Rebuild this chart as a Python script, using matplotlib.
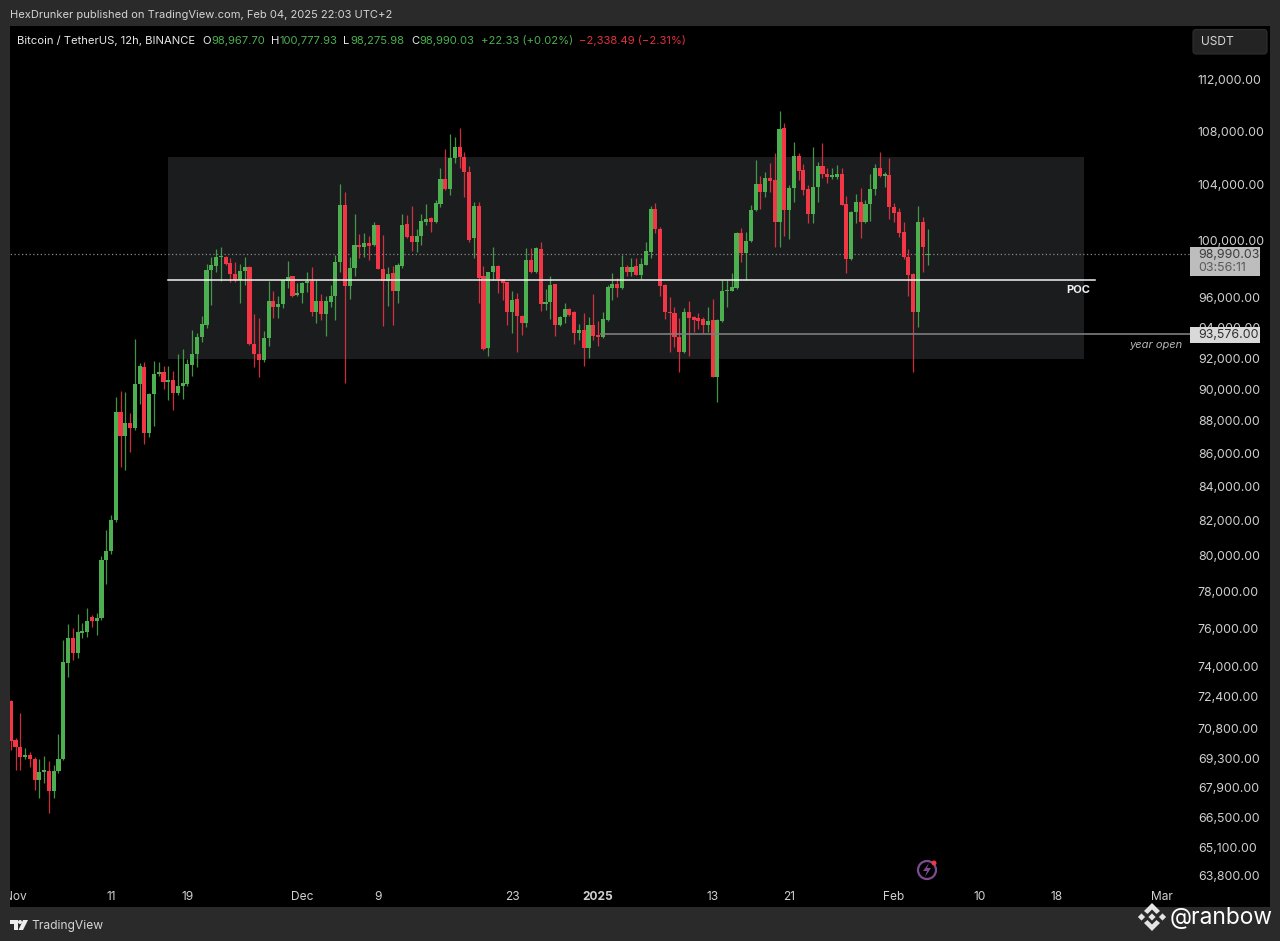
import matplotlib
matplotlib.use("Agg")
import matplotlib.pyplot as plt
import matplotlib.dates as mdates
import numpy as np
import pandas as pd
from matplotlib.patches import Rectangle, FancyBboxPatch, Circle, Polygon

plt.rcParams['font.family'] = ['Inter', 'DejaVu Sans']

# BTCUSDT 12h candles
opens = [72210,70230,69890,69370,69490,69295,68270,68660,68710,67740,
    68710,69295,74160,75480,74690,75750,75800,76610,76390,76555,
    79759,80270,82046,88550,87050,87870,87560,90325,91415,87250,
    89690,90960,91090,90450,90579,89750,90195,90320,91545,92255,
    93375,94170,97900,98180,98800,98800,98390,97625,97213,97835,
    98110,92915,92255,91870,93310,95780,95375,95575,97145,97490,
    96185,96320,97010,97145,95040,95780,94905,95715,96115,98460,
    102505,96800,98040,99650,99505,99790,99650,101065,97970,97145,
    97695,96460,98180,101135,100285,99860,100285,101280,101565,101280,
    102575,104405,103670,105970,106795,106045,104925,100140,102430,97490,
    92650,97765,98180,97280,97075,95040,95915,94770,94300,98597,
    97765,99365,95575,95715,96940,94170,94700,95240,95040,93640,
    93837,92650,94170,93500,93375,94503,96665,96940,96665,98110,
    97765,98180,97560,98250,99155,102215,100780,96870,95040,94970,
    93375,92390,95040,94705,94640,94570,94170,94503,90770,94440,
    96460,96460,96665,100495,99085,99930,102140,104050,103450,104480,
    104330,101280,108235,102140,103745,106120,105070,103670,101855,103820,
    105370,104775,104550,104550,104775,102575,98665,101995,102720,101280,
    102575,103670,105220,104625,104700,102360,101995,100570,98800,97625,
    95040,101280,98967.70]
highs = [72245,70330,71580,69835,69640,69390,69295,69440,69195,69000,
    70530,75375,76240,76000,76770,76280,77100,76720,76825,79980,
    81468,82330,89500,89880,89815,88490,93240,91670,91740,89750,
    91800,91740,91480,91480,91155,92255,92585,91930,93837,93640,
    94770,98320,98800,99365,99510,98870,98735,98460,98320,98800,
    98180,94900,94640,93770,97145,96460,96115,97280,98530,97490,
    97010,97075,97765,98110,97213,96255,96115,96870,98950,104050,
    103450,98800,101855,100425,100495,100285,101280,101065,100355,98110,
    98180,98390,101855,101785,102430,100780,101855,102575,101640,102870,
    105220,106640,107780,107550,108235,106420,105400,102720,102720,98180,
    97765,99505,98250,97280,97075,96460,96320,94840,99435,99435,
    99505,99860,96595,97490,96940,94770,95640,95310,95105,94235,
    94970,94705,96255,94440,95040,96870,97695,97350,98950,98250,
    98735,98735,98735,99860,102430,102650,100925,96940,96050,95375,
    94640,95310,95780,94770,94970,94705,95375,95915,94570,97213,
    97213,97695,100570,100850,100570,102505,105820,104625,104925,105595,
    106345,109540,108620,103965,107170,106345,105520,103965,106795,105670,
    107100,105220,105220,105445,105220,103160,102070,103310,103745,102870,
    104775,105520,106420,104925,105970,102650,102285,101280,99365,97695,
    102430,101640,100777.93]
lows = [69736,68757,68757,69295,68900,67790,67410,68130,66700,67410,
    68610,69245,73430,74316,74420,75480,75530,76070,75640,76447,
    78420,80100,81930,85180,85000,86085,87434,89055,86570,87000,
    87680,90835,90005,89307,88678,89625,89370,90195,90835,91415,
    93045,93970,95510,97765,97145,98250,97075,97075,95640,96870,
    92845,91415,90770,91740,92780,94640,94640,95310,96665,96050,
    96115,95640,96390,94770,94300,94503,93440,95375,94503,97765,
    90385,95915,97490,98745,98800,98597,99580,97970,94105,95445,
    94170,95640,98040,100140,99225,99155,99650,101065,100570,101210,
    102360,103600,103235,105595,105220,103090,99860,98735,95640,92520,
    92125,97213,96320,95848,94170,93640,92390,93500,94040,97695,
    97695,95105,95173,94570,93440,94105,94300,94770,92915,93176,
    91480,91995,93176,92780,93310,94440,95848,96050,96595,97490,
    97490,97560,97280,98250,98735,100495,96115,94570,92390,92715,
    91090,92325,92125,93705,93905,93640,93705,90770,89180,94370,
    95375,96460,96595,98460,97213,99860,102070,102215,103090,103450,
    99505,99505,100285,100070,102720,104330,103235,101210,101210,102720,
    104480,104105,104405,104405,102505,97695,98597,101210,100140,101210,
    101350,103235,104550,103820,101490,101280,100210,98665,96115,91090,
    94040,97765,98275.98]
closes = [70200,69890,69390,69490,69295,68270,68660,68760,67740,68710,
    69295,74210,75480,74690,75800,75855,76390,76390,76555,79759,
    80270,82046,88550,87050,87870,87560,90325,91480,87250,89690,
    90960,91090,90450,90579,89750,90195,90385,91610,92255,93375,
    94235,97900,98250,98800,98870,98320,97625,97213,97835,98110,
    92915,92255,91870,93310,95780,95375,95575,97213,97420,96115,
    96320,97010,97145,95040,95780,94905,95780,96115,98460,102505,
    96800,98040,99650,99505,99790,99580,101065,97970,97145,97625,
    96460,98250,101065,100210,99860,100285,101350,101490,101280,102650,
    104405,103670,105970,106795,106045,104925,100000,102430,97350,92585,
    97765,98180,97280,97010,95040,95848,94770,94300,98597,97765,
    99435,95575,95715,96870,94170,94700,95240,94840,93640,93837,
    92650,94170,93440,93375,94570,96730,96940,96665,98110,97765,
    98110,97560,98320,99225,102215,100780,96800,95040,94970,93375,
    92390,95040,94640,94503,94440,94170,94440,90770,94503,96460,
    96528,96730,100495,99085,99930,102140,104050,103450,104480,104255,
    101280,108155,102140,103745,106120,105000,103600,101855,103820,105370,
    104775,104550,104700,104775,102505,98665,101995,102720,101280,102575,
    103670,105220,104625,104775,102360,101925,100495,98800,97560,95040,
    101280,99505,98990.03]

price_ticks = [112000,108000,104000,100000,96000,94000,92000,90000,88000,86000,84000,82000,
    80000,78000,76000,74000,72400,70800,69300,67900,66500,65100,63800]
date_ticks = ["2024-11-01","2024-11-11","2024-11-19","2024-12-01","2024-12-09","2024-12-23",
    "2025-01-01","2025-01-13","2025-01-21","2025-02-01","2025-02-10","2025-02-18","2025-03-01"]
date_labels = ["Nov","11","19","Dec","9","23","2025","13","21","Feb","10","18","Mar"]

last_price = 98990.03
year_open = 93576
poc = 97213
range_top = 106020
range_bottom = 91930

GREEN = '#4caf50'
RED = '#f23645'
FRAME = '#2a2a2a'
W, H = 1280, 941

fig = plt.figure(figsize=(W/100, H/100), dpi=100, facecolor=FRAME)
ax = fig.add_axes([10/W, 1-907/H, 1260/W, 881/H], facecolor='black')

times = pd.date_range("2024-10-31 12:00", periods=len(opens), freq="12h")
x = mdates.date2num(times)
o, h, l, c = map(np.array, (opens, highs, lows, closes))
colors = np.where(c >= o, GREEN, RED)

day0 = mdates.date2num(pd.Timestamp("2024-11-01"))

# range box and levels under the candles
ax.add_patch(Rectangle((day0+15.97, range_bottom), 95.93, range_top-range_bottom, color='#1b1c1e', lw=0, zorder=1))
ax.plot([x[0]-2, day0+123.0], [last_price]*2, color='#8a8a8a', lw=0.9, ls=(0, (1, 2)), zorder=2)
ax.plot([day0+15.97, day0+113.0], [poc]*2, color='#f2f2f2', lw=1.1, zorder=4)
ax.plot([day0+61.3, day0+123.0], [year_open]*2, color='#7d7d7d', lw=1.2, zorder=4)

ax.vlines(x, l, h, colors=colors, lw=0.9, alpha=0.85, zorder=3)
ax.bar(x, np.abs(c-o), bottom=np.minimum(o, c), width=0.43, color=colors, lw=0, zorder=3)

ax.set_yscale('log')
ax.set_xlim(day0-0.576, day0+131.36)
ax.set_ylim(62414, 116330)

ax.yaxis.tick_right()
ax.minorticks_off()
ax.set_yticks(price_ticks)
ax.set_yticklabels([f"{p:,.2f}" for p in price_ticks])
ax.tick_params(axis='y', which='both', length=0, pad=-52, labelsize=8.9, labelcolor='#d0d0d0')
for t in ax.get_yticklabels():
    t.set_ha('left')
ax.set_xticks(mdates.date2num(pd.to_datetime(date_ticks)))
ax.set_xticklabels(date_labels)
ax.tick_params(axis='x', length=0, pad=-11.5, labelsize=8.6, labelcolor='#d0d0d0')
ax.get_xticklabels()[6].set_fontweight('bold')
for s in ax.spines.values():
    s.set_visible(False)

# everything that sits on top of the chart, in screen pixels
top = fig.add_axes([0, 0, 1, 1], facecolor='none')
top.set_xlim(0, W)
top.set_ylim(H, 0)
top.axis('off')

top.add_patch(Rectangle((0, 0), 10, H, color=FRAME, lw=0))
top.add_patch(Rectangle((1270, 0), 10, H, color=FRAME, lw=0))

top.text(10, 15, "HexDrunker published on TradingView.com, Feb 04, 2025 22:03 UTC+2", color='#d4d4d4', fontsize=8.0, va='center')
top.text(17, 40.5, "Bitcoin / TetherUS, 12h, BINANCE", color='#e8e8e8', fontsize=8.1, va='center')
for xp, s, col in [(202, "O", '#e8e8e8'), (211, "98,967.70", GREEN), (271, "H", '#e8e8e8'), (279, "100,777.93", GREEN),
                   (343, "L", '#e8e8e8'), (350, "98,275.98", GREEN), (411, "C", '#e8e8e8'), (419, "98,990.03", GREEN),
                   (481, "+22.33 (+0.02%)", GREEN), (579, "\u22122,338.49 (\u22122.31%)", '#e0303f')]:
    top.text(xp, 40.5, s, color=col, fontsize=8.1, va='center')

top.add_patch(FancyBboxPatch((1193, 29.5), 74, 24.5, boxstyle="round,pad=0,rounding_size=3", fc='#232323', ec='#2e2e2e', lw=0.8))
top.text(1201.5, 41.5, "USDT", color='#d6d6d6', fontsize=8.6, va='center')

# price labels
top.add_patch(Rectangle((1190, 247), 70, 29, color='#bdbdbd', lw=0))
top.text(1198, 255, "98,990.03", color='#3c3c3c', fontsize=8.9, va='center')
top.text(1198, 268, "03:56:11", color='#5a5a5a', fontsize=8.9, va='center')
top.add_patch(Rectangle((1190, 327), 70, 16, color='#d9d9d9', lw=0))
top.text(1198, 335, "93,576.00", color='#2e2e2e', fontsize=8.9, va='center')

top.text(1066, 290, "POC", color='#f2f2f2', fontsize=8, fontweight='bold', va='center')
top.text(1129, 345.5, "year open", color='#b5b5b5', fontsize=8, style='italic', va='center')

# lightning badge
top.add_patch(Circle((927, 870), 9, fc='none', ec='#7d4c8f', lw=1.6))
top.add_patch(Polygon([(929, 863), (923, 871), (927, 871), (925, 877), (931, 868), (927, 868)], color='#7d4c8f', lw=0))
top.add_patch(Circle((934, 863), 2.5, color='#f23645', lw=0))

# TradingView logo
top.add_patch(Polygon([(10, 920), (18, 920), (18, 930), (14, 930), (14, 924), (10, 924)], color='#eeeeee', lw=0))
top.add_patch(Circle((20, 922), 2, color='#eeeeee', lw=0))
top.add_patch(Polygon([(23, 920), (28, 920), (23, 930), (18.5, 930)], color='#eeeeee', lw=0))
top.text(31, 925.5, "TradingView", color='#d4d4d4', fontsize=8.7, va='center')

# watermark, binance style diamond
MARK = '#e4e4e4'
top.add_patch(Polygon([(1152, 903), (1160, 911), (1156.5, 914), (1152, 909.5), (1147.5, 914), (1144, 911)], color=MARK, lw=0))
top.add_patch(Polygon([(1152, 931), (1160, 923), (1156.5, 920), (1152, 924.5), (1147.5, 920), (1144, 923)], color=MARK, lw=0))
for cx, cy in [(1141.5, 917), (1162.5, 917), (1152, 917)]:
    r = 3.6
    top.add_patch(Polygon([(cx-r, cy), (cx, cy-r), (cx+r, cy), (cx, cy+r)], color=MARK, lw=0))
top.text(1170, 918, "@ranbow", color='white', fontsize=16.4, va='center')

fig.savefig("out.png", dpi=100, facecolor=FRAME)
